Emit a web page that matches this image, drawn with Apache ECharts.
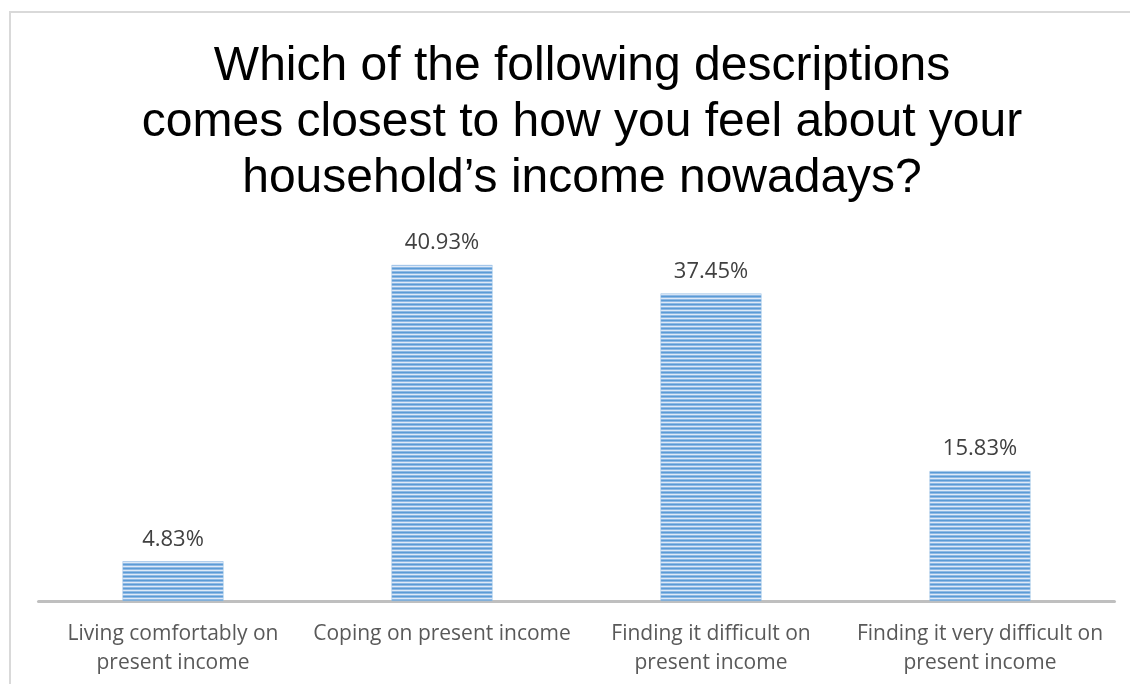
<!DOCTYPE html>
<html>
<head>
<meta charset="utf-8">
<script src="https://cdn.jsdelivr.net/npm/echarts@6/dist/echarts.min.js"></script>
<style>
html,body{margin:0;padding:0;background:#fff;}
#c{width:1130px;height:684px;}
</style>
</head>
<body>
<div id="c"></div>
<script>
const titleText = "Which of the following descriptions\ncomes closest to how you feel about your\nhousehold\u2019s income nowadays?";
const categories = [
  "Living comfortably on\npresent income",
  "Coping on present income",
  "Finding it difficult on\npresent income",
  "Finding it very difficult on\npresent income"
];
const values = [4.83, 40.93, 37.45, 15.83];

function makePattern() {
  const cv = document.createElement('canvas');
  cv.width = 8; cv.height = 4;
  const ctx = cv.getContext('2d');
  const rows = ['#5b9bd5', '#8fb9e5', '#dfeaf7', '#8fb9e5'];
  rows.forEach((c, i) => { ctx.fillStyle = c; ctx.fillRect(0, i, 8, 1); });
  return cv;
}

const chart = echarts.init(document.getElementById('c'));
chart.setOption({
  animation: false,
  backgroundColor: '#fff',
  title: {
    text: titleText,
    left: 577,
    textAlign: 'center',
    top: 34,
    textStyle: {
      fontFamily: 'Liberation Sans, Arial, sans-serif',
      fontSize: 48,
      fontWeight: 'normal',
      color: '#000',
      lineHeight: 56
    }
  },
  graphic: [{
    type: 'rect',
    shape: { x: 10, y: 12, width: 1140, height: 700 },
    style: { fill: 'none', stroke: '#d9d9d9', lineWidth: 2 },
    silent: true,
    z: -10
  }],
  grid: { left: 38.5, right: 15.5, top: 190.5, bottom: 83, containLabel: false },
  xAxis: {
    type: 'category',
    data: categories,
    axisLine: { lineStyle: { color: '#bfbfbf', width: 3 } },
    axisTick: { show: false },
    axisLabel: {
      interval: 0,
      color: '#595959',
      fontFamily: 'Open Sans, Noto Sans, sans-serif',
      fontSize: 21,
      lineHeight: 29,
      margin: 19
    }
  },
  yAxis: {
    type: 'value',
    min: 0, max: 50,
    show: false,
    splitLine: { show: false }
  },
  series: [{
    type: 'bar',
    data: values,
    barWidth: 101,
    itemStyle: {
      color: { image: makePattern(), repeat: 'repeat' },
      borderColor: '#9dc3e6',
      borderWidth: 0.5
    },
    label: {
      show: true,
      position: 'top',
      distance: 11,
      formatter: p => p.value.toFixed(2) + '%',
      color: '#404040',
      fontFamily: 'Open Sans, Noto Sans, sans-serif',
      fontSize: 22
    }
  }]
});
</script>
</body>
</html>
